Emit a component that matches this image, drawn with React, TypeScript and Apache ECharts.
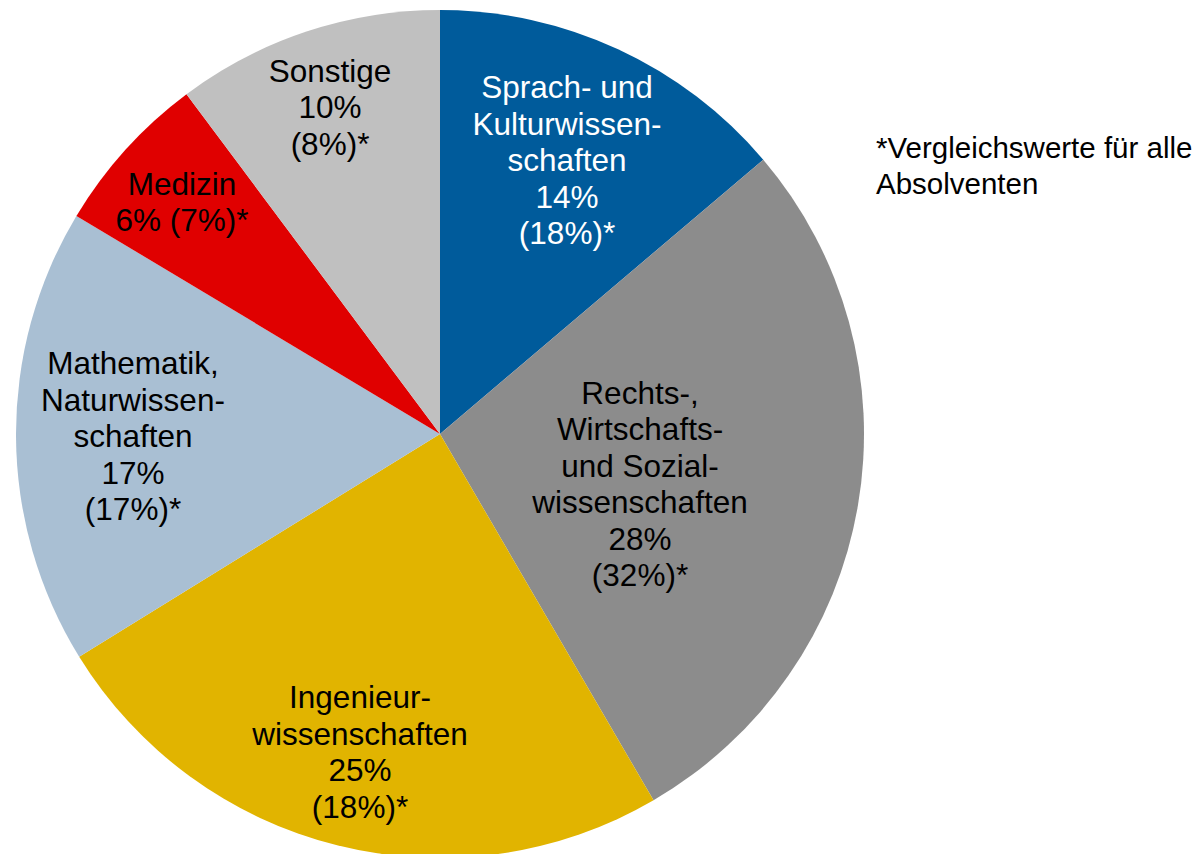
import React, { useEffect, useRef } from "react";
import * as echarts from "echarts";

const categories = [
  "Sprach- und\nKulturwissen-\nschaften",
  "Rechts-,\nWirtschafts-\nund Sozial-\nwissenschaften",
  "Ingenieur-\nwissenschaften",
  "Mathematik,\nNaturwissen-\nschaften",
  "Medizin",
  "Sonstige",
];
const sliceValues = [13.8, 27.8, 24.6, 17.4, 6.2, 10.2];
const shareLabels = ["14%", "28%", "25%", "17%", "6%", "10%"];
const compareLabels = ["(18%)*", "(32%)*", "(18%)*", "(17%)*", "(7%)*", "(8%)*"];
const noteText = "*Vergleichswerte für alle\nAbsolventen";

const colors = ["#005B9B", "#8C8C8C", "#E1B400", "#A9BFD3", "#E00000", "#C0C0C0"];
const textColors = ["#FFFFFF", "#000000", "#000000", "#000000", "#000000", "#000000"];
const oneLineCompare = [false, false, false, false, true, false];
const labelPos: [number, number][] = [
  [567, 160],
  [640, 484],
  [360, 752],
  [133, 436],
  [182, 202],
  [330, 107],
];

export default function App() {
  const ref = useRef<HTMLDivElement>(null);
  useEffect(() => {
    if (!ref.current) return;
    const chart = echarts.init(ref.current, undefined, { renderer: "svg" });
    const font = "'Liberation Sans', Arial, sans-serif";
    chart.setOption({
      animation: false,
      backgroundColor: "#FFFFFF",
      series: [
        {
          type: "pie",
          center: [440, 434],
          radius: [0, 424],
          startAngle: 90,
          clockwise: true,
          avoidLabelOverlap: false,
          silent: true,
          label: {
            show: true,
            position: "inside",
            fontFamily: font,
            fontSize: 31.5,
            lineHeight: 36.5,
            align: "center",
            verticalAlign: "middle",
            formatter: (p: any) => {
              const i = p.dataIndex;
              const sep = oneLineCompare[i] ? " " : "\n";
              return `${categories[i]}\n${shareLabels[i]}${sep}${compareLabels[i]}`;
            },
          },
          labelLine: { show: false },
          labelLayout: (p: any) => ({
            x: labelPos[p.dataIndex][0],
            y: labelPos[p.dataIndex][1],
            align: "center",
            verticalAlign: "middle",
          }),
          data: sliceValues.map((v, i) => ({
            value: v,
            name: categories[i],
            itemStyle: { color: colors[i], borderWidth: 0 },
            label: { color: textColors[i] },
          })),
        },
      ],
      graphic: [
        {
          type: "text",
          left: 876,
          top: 129,
          style: {
            text: noteText,
            fontFamily: font,
            fontSize: 29.5,
            lineHeight: 36,
            fill: "#000000",
          },
        },
      ],
    });
    return () => chart.dispose();
  }, []);
  return (
    <div
      ref={ref}
      style={{ position: "fixed", left: 0, top: 0, width: 1197, height: 854 }}
    />
  );
}
